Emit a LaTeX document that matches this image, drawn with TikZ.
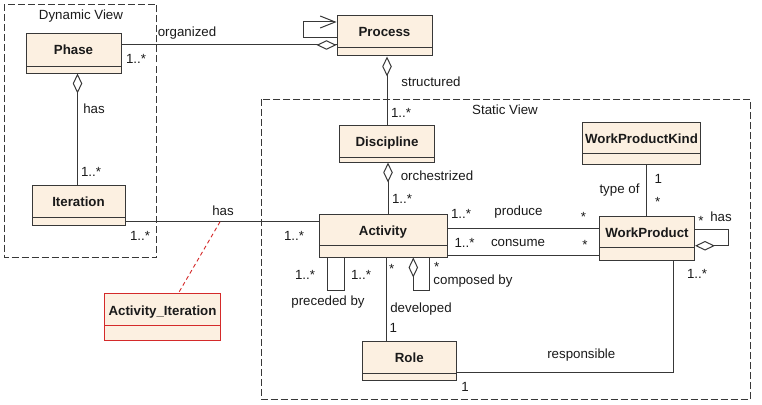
\documentclass[tikz,border=0pt]{standalone}
\usepackage{fontspec}
\setmainfont{Liberation Sans}
\usetikzlibrary{arrows.meta,calc}
\definecolor{cream}{HTML}{FCF0E1}
\definecolor{edge}{HTML}{383838}
\definecolor{umlred}{HTML}{D42A2A}
\definecolor{txt}{HTML}{1A1A1A}
\begin{document}
\begin{tikzpicture}[x=1pt,y=-1pt,
  every node/.style={text=txt},
  clsbox/.style={draw=edge, fill=cream, line width=1pt, inner sep=0pt},
  redbox/.style={draw=umlred, fill=cream, line width=1pt, inner sep=0pt},
  sepline/.style={draw=edge, line width=1pt},
  clsname/.style={inner sep=0pt, font=\fontsize{13.3}{16}\selectfont\bfseries, text height=9.6pt, text depth=2.7pt},
  lbl/.style={inner sep=0pt, font=\fontsize{13.3}{16}\selectfont, text height=9.6pt, text depth=2.7pt},
  assoc/.style={draw=edge, line width=1pt},
  viewbox/.style={draw=edge, line width=1pt, dash pattern=on 7pt off 3pt},
  agg/.style={{Diamond[length=20pt,width=9.5pt,fill=white]}-},
  nav/.style={-{Straight Barb[length=15pt,width=12pt]}}
]
\useasboundingbox (0,0) rectangle (762,404);

% views
\draw[viewbox] (4.5,4.5) rectangle (156.5,257.5);
\draw[viewbox] (261,99) rectangle (750,399.5);
\node[lbl] (dynLbl) at (81,16.5) {Dynamic View};
\node[lbl] (staticLbl) at (505,111.5) {Static View};

% classes
\node[clsbox, minimum width=95pt, minimum height=39pt] (phase) at (73.5,53.5) {};
\draw[sepline] (26,66) -- (121,66);
\node[clsname] (phaseN) at (73.5,51.5) {Phase};

\node[clsbox, minimum width=95pt, minimum height=40pt] (process) at (384.5,36) {};
\draw[sepline] (337,48) -- (432,48);
\node[clsname] (processN) at (384.5,33.5) {Process};

\node[clsbox, minimum width=93pt, minimum height=40pt] (iteration) at (78.5,205) {};
\draw[sepline] (32,217) -- (125,217);
\node[clsname] (iterationN) at (78.5,203) {Iteration};

\node[clsbox, minimum width=95pt, minimum height=36.5pt] (discipline) at (387,143.75) {};
\draw[sepline] (339.5,157) -- (434.5,157);
\node[clsname] (disciplineN) at (387,143.5) {Discipline};

\node[clsbox, minimum width=128pt, minimum height=43pt] (activity) at (383,235.5) {};
\draw[sepline] (319,245) -- (447,245);
\node[clsname] (activityN) at (383,232) {Activity};

\node[clsbox, minimum width=118pt, minimum height=41.5pt] (wpk) at (641.5,143.25) {};
\draw[sepline] (582.5,153) -- (700.5,153);
\node[clsname] (wpkN) at (641.5,140.5) {WorkProductKind};

\node[clsbox, minimum width=95pt, minimum height=44.5pt] (workproduct) at (647,238.25) {};
\draw[sepline] (599.5,247.5) -- (694.5,247.5);
\node[clsname] (workproductN) at (647,234.5) {WorkProduct};

\node[clsbox, minimum width=94.5pt, minimum height=39pt] (role) at (409.25,361) {};
\draw[sepline] (362,373.5) -- (456.5,373.5);
\node[clsname] (roleN) at (409.25,359.5) {Role};

\node[redbox, minimum width=116pt, minimum height=46.5pt] (actit) at (162.5,316.75) {};
\draw[draw=umlred, line width=1pt] (104.5,325.5) -- (220.5,325.5);
\node[clsname] (actitN) at (162.5,312) {Activity\_Iteration};

% connectors
\coordinate (orgA) at ([yshift=8.5pt]phase.east);
\draw[assoc] (orgA) -- (orgA -| process.west);
\draw[assoc,{Diamond[length=20pt,width=9.5pt,fill=white]}-] (orgA -| process.west) -- ++(-2,0);

\draw[assoc,nav] ([yshift=-2pt]process.west) -- ++(-33,0) |- ([yshift=14pt]process.west);

\draw[assoc,agg] (discipline.north |- process.south) -- (discipline.north);

\coordinate (phIt) at ([xshift=-1pt]iteration.north);
\draw[assoc,agg] (phIt |- phase.south) -- (phIt);

\coordinate (hasA) at ([yshift=-16.7pt]iteration.east);
\draw[assoc] (hasA) -- (hasA -| activity.west);

\coordinate (dsA) at ([xshift=1pt]discipline.south);
\draw[assoc,agg] (dsA) -- (dsA |- activity.north);

\coordinate (prodA) at ([yshift=7.2pt]activity.east);
\draw[assoc] (prodA) -- (prodA -| workproduct.west);
\coordinate (consA) at ([yshift=-19.5pt]activity.east);
\draw[assoc] (consA) -- (consA -| workproduct.west);

\coordinate (wpTop) at ([xshift=-0.7pt]workproduct.north);
\draw[assoc] (wpTop |- wpk.south) -- (wpTop);

\draw[assoc,agg] ([yshift=-7.5pt]workproduct.east) -- ++(33,0) |- ([yshift=9pt]workproduct.east);

\draw[assoc] ([xshift=26.3pt]workproduct.south) |- ([yshift=-11.3pt]role.east);

\coordinate (devA) at ([xshift=3.7pt]activity.south);
\draw[assoc] (devA) -- (devA |- role.north);

\draw[assoc] ([xshift=-55.3pt]activity.south) -- ++(0,33) -| ([xshift=-38.7pt]activity.south);

\draw[assoc,agg] ([xshift=30.3pt]activity.south) -- ++(0,33) -| ([xshift=46pt]activity.south);

\coordinate (hasMid) at ($(hasA)!0.49!(hasA -| activity.west)$);
\draw[draw=umlred, line width=0.9pt, dash pattern=on 4pt off 3pt] (hasMid) -- ([xshift=16pt]actit.north);

% labels
\node[lbl] (lOrg) at (187,33.5) {organized};
\node[lbl] (lPh1) at (136,60.3) {1..*};
\node[lbl] (lHas1) at (94,110.5) {has};
\node[lbl] (lIt1) at (91,173.3) {1..*};
\node[lbl] (lHas2) at (223,212.5) {has};
\node[lbl] (lIt2) at (140,237.3) {1..*};
\node[lbl] (lAc1) at (294,237.3) {1..*};
\node[lbl] (lStr) at (431,83.5) {structured};
\node[lbl] (lDi1) at (401,114) {1..*};
\node[lbl] (lOrch) at (437,177.5) {orchestrized};
\node[lbl] (lAc2) at (402,200.3) {1..*};
\node[lbl] (lAc3) at (461,215.5) {1..*};
\node[lbl] (lProd) at (518.5,212.5) {produce};
\node[lbl] (lProdS) at (583.5,218.3) {*};
\node[lbl] (lAc4) at (464.5,244.5) {1..*};
\node[lbl] (lCons) at (518,243.5) {consume};
\node[lbl] (lConsS) at (585,246.3) {*};
\node[lbl] (lType) at (619.5,190.5) {type of};
\node[lbl] (lK1) at (658.3,180.3) {1};
\node[lbl] (lKS) at (657.7,203.3) {*};
\node[lbl] (lWpS) at (701,221.7) {*};
\node[lbl] (lWpHas) at (721,217.8) {has};
\node[lbl] (lWp1) at (697,275.3) {1..*};
\node[lbl] (lPre1) at (305,276.3) {1..*};
\node[lbl] (lPre2) at (361,276.3) {1..*};
\node[lbl] (lPre) at (328,302.2) {preceded by};
\node[lbl] (lDevS) at (391.7,270) {*};
\node[lbl] (lCompS) at (436.7,268) {*};
\node[lbl] (lComp) at (473,281.2) {composed by};
\node[lbl] (lDev) at (421,308.8) {developed};
\node[lbl] (lDev1) at (393.3,328.6) {1};
\node[lbl] (lResp) at (581.3,355.5) {responsible};
\node[lbl] (lRole1) at (465,388) {1};
\end{tikzpicture}
\end{document}
